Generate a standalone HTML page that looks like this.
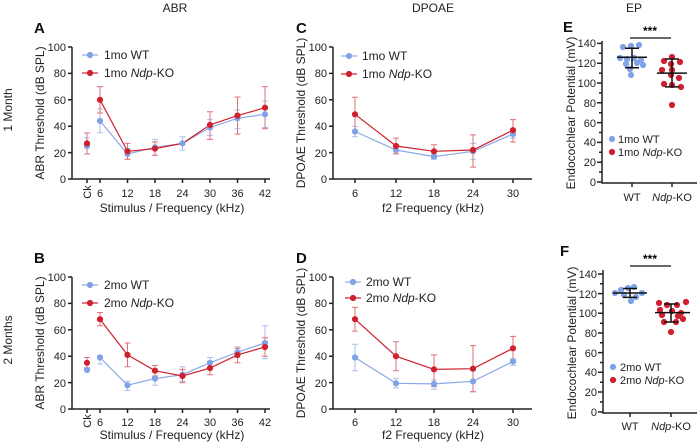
<!DOCTYPE html>
<html><head><meta charset="utf-8"><style>
body{margin:0;background:#fff}
svg{display:block;font-family:"Liberation Sans",Arial,sans-serif}
.t{font-size:11px;fill:#222}
.l{font-size:12px;fill:#222}
.ax{stroke:#222;stroke-width:1.5;fill:none}
.w{stroke:#7fa3e6;fill:#7fa3e6}
.k{stroke:#d0202e;fill:#d0202e}
.wl{stroke:#8aaae8;stroke-width:1.2;fill:none}
.kl{stroke:#d0202e;stroke-width:1.2;fill:none}
.we{stroke:#a9c0ee;stroke-width:1;fill:none}
.ke{stroke:#e0707a;stroke-width:1;fill:none}
</style></head><body>
<svg width="700" height="444" viewBox="0 0 700 444">
<text x="175" y="12" class="l" text-anchor="middle">ABR</text>
<text x="433" y="12" class="l" text-anchor="middle">DPOAE</text>
<text x="634" y="12" class="l" text-anchor="middle">EP</text>
<text x="12" y="110" class="l" text-anchor="middle" transform="rotate(-90 12 110)">1 Month</text>
<text x="12" y="340" class="l" text-anchor="middle" transform="rotate(-90 12 340)">2 Months</text>
<g font-weight="bold" font-size="15" fill="#111">
<text x="34" y="33">A</text><text x="296" y="33">C</text><text x="563" y="32">E</text>
<text x="34" y="263">B</text><text x="296" y="263">D</text><text x="560" y="256">F</text>
</g>

<!-- ===== Panel A ===== -->
<g>
<path class="ax" d="M72 47V179H270"/>
<g class="ax"><path d="M68 47H72M68 73.4H72M68 99.8H72M68 126.2H72M68 152.6H72M68 179H72"/>
<path d="M87 179v4M100 179v4M127.5 179v4M155 179v4M182.5 179v4M210 179v4M237.5 179v4M265 179v4"/></g>
<g class="t" text-anchor="end"><text x="66" y="51">100</text><text x="66" y="77">80</text><text x="66" y="104">60</text><text x="66" y="130">40</text><text x="66" y="157">20</text><text x="66" y="183">0</text></g>
<g class="t" text-anchor="middle"><text x="100" y="197">6</text><text x="127.5" y="197">12</text><text x="155" y="197">18</text><text x="182.5" y="197">24</text><text x="210" y="197">30</text><text x="237.5" y="197">36</text><text x="265" y="197">42</text></g>
<text class="t" text-anchor="middle" transform="translate(91 192) rotate(-90)">Ck</text>
<text class="l" x="172" y="212" text-anchor="middle">Stimulus / Frequency (kHz)</text>
<text class="l" x="44" y="113" text-anchor="middle" transform="rotate(-90 44 113)">ABR Threshold (dB SPL)</text>
<path class="we" d="M87 154v-16M84 154h6M84 138h6M100 132.8v-23.8M97 132.8h6M97 109h6M127.5 159.2v-10.6M124.5 159.2h6M124.5 148.6h6M155 155.2v-15.8M152 155.2h6M152 139.4h6M182.5 150v-13.2M179.5 150h6M179.5 136.8h6M210 135.4v-15.8M207 135.4h6M207 119.6h6M237.5 128.8v-18.8M234.5 128.8h6M234.5 110h6M265 127.5v-26.4M262 127.5h6M262 101.1h6"/>
<path class="ke" d="M87 154v-21M84 154h6M84 133h6M100 113v-26.4M97 113h6M97 86.6h6M127.5 159.2v-15.8M124.5 159.2h6M124.5 143.4h6M155 155.2v-13.2M152 155.2h6M152 142h6M210 139.4v-27.7M207 139.4h6M207 111.7h6M237.5 134v-37M234.5 134h6M234.5 97h6M265 128.8v-42.2M262 128.8h6M262 86.6h6"/>
<polyline class="wl" points="100,120.9 127.5,153.9 155,147.3 182.5,143.4 210,127.5 237.5,118.3 265,114.3"/>
<polyline class="kl" points="100,99.8 127.5,151.3 155,148.6 182.5,143.4 210,124.9 237.5,115.6 265,107.7"/>
<g class="w"><circle cx="87" cy="146" r="2.6"/><circle cx="100" cy="120.9" r="2.6"/><circle cx="127.5" cy="153.9" r="2.6"/><circle cx="155" cy="147.3" r="2.6"/><circle cx="182.5" cy="143.4" r="2.6"/><circle cx="210" cy="127.5" r="2.6"/><circle cx="237.5" cy="118.3" r="2.6"/><circle cx="265" cy="114.3" r="2.6"/></g>
<g class="k"><circle cx="87" cy="143.4" r="2.6"/><circle cx="100" cy="99.8" r="2.6"/><circle cx="127.5" cy="151.3" r="2.6"/><circle cx="155" cy="148.6" r="2.6"/><circle cx="210" cy="124.9" r="2.6"/><circle cx="237.5" cy="115.6" r="2.6"/><circle cx="265" cy="107.7" r="2.6"/></g>
<path class="wl" d="M82 55H98"/><circle class="w" cx="90" cy="55" r="2.6"/><text class="l" x="104" y="59">1mo WT</text>
<path class="kl" d="M82 73H98"/><circle class="k" cx="90" cy="73" r="2.6"/><text class="l" x="104" y="77">1mo <tspan font-style="italic">Ndp</tspan>-KO</text>
</g>

<!-- ===== Panel B ===== -->
<g>
<path class="ax" d="M72 277V409H270"/>
<g class="ax"><path d="M68 277H72M68 303.4H72M68 329.8H72M68 356.2H72M68 382.6H72M68 409H72"/>
<path d="M87 409v4M100 409v4M127.5 409v4M155 409v4M182.5 409v4M210 409v4M237.5 409v4M265 409v4"/></g>
<g class="t" text-anchor="end"><text x="66" y="281">100</text><text x="66" y="307">80</text><text x="66" y="334">60</text><text x="66" y="360">40</text><text x="66" y="387">20</text><text x="66" y="413">0</text></g>
<g class="t" text-anchor="middle"><text x="100" y="426">6</text><text x="127.5" y="426">12</text><text x="155" y="426">18</text><text x="182.5" y="426">24</text><text x="210" y="426">30</text><text x="237.5" y="426">36</text><text x="265" y="426">42</text></g>
<text class="t" text-anchor="middle" transform="translate(91 421) rotate(-90)">Ck</text>
<text class="l" x="172" y="439" text-anchor="middle">Stimulus / Frequency (kHz)</text>
<text class="l" x="44" y="343" text-anchor="middle" transform="rotate(-90 44 343)">ABR Threshold (dB SPL)</text>
<path class="we" d="M87 372v-4M100 364v-8M97 364h6M97 356h6M127.5 390.5v-9.2M124.5 390.5h6M124.5 381.3h6M155 385.2v-13.2M152 385.2h6M152 372h6M182.5 381.3v-14.5M179.5 381.3h6M179.5 366.8h6M210 368.1v-10.6M207 368.1h6M207 357.5h6M237.5 357.5v-10.6M234.5 357.5h6M234.5 346.9h6M265 358.8v-33M262 358.8h6M262 325.8h6"/>
<path class="ke" d="M87 368v-10.6M84 368h6M84 357.5h6M100 325.8v-13.2M97 325.8h6M97 312.6h6M127.5 366.8v-23.8M124.5 366.8h6M124.5 343h6M155 376v-10.6M152 376h6M152 365.4h6M182.5 382.6v-13.2M179.5 382.6h6M179.5 369.4h6M210 374.7v-13.2M207 374.7h6M207 361.5h6M237.5 362.8v-14.6M234.5 362.8h6M234.5 348.2h6M265 356.2v-18.5M262 356.2h6M262 337.7h6"/>
<polyline class="wl" points="100,357.5 127.5,385.2 155,378.6 182.5,374.7 210,362.8 237.5,352.2 265,343"/>
<polyline class="kl" points="100,319.2 127.5,354.9 155,370.7 182.5,376 210,368.1 237.5,354.9 265,347"/>
<g class="w"><circle cx="87" cy="370" r="2.6"/><circle cx="100" cy="357.5" r="2.6"/><circle cx="127.5" cy="385.2" r="2.6"/><circle cx="155" cy="378.6" r="2.6"/><circle cx="182.5" cy="374.7" r="2.6"/><circle cx="210" cy="362.8" r="2.6"/><circle cx="237.5" cy="352.2" r="2.6"/><circle cx="265" cy="343" r="2.6"/></g>
<g class="k"><circle cx="87" cy="362.8" r="2.6"/><circle cx="100" cy="319.2" r="2.6"/><circle cx="127.5" cy="354.9" r="2.6"/><circle cx="155" cy="370.7" r="2.6"/><circle cx="182.5" cy="376" r="2.6"/><circle cx="210" cy="368.1" r="2.6"/><circle cx="237.5" cy="354.9" r="2.6"/><circle cx="265" cy="347" r="2.6"/></g>
<path class="wl" d="M82 285H98"/><circle class="w" cx="90" cy="285" r="2.6"/><text class="l" x="104" y="289">2mo WT</text>
<path class="kl" d="M82 303H98"/><circle class="k" cx="90" cy="303" r="2.6"/><text class="l" x="104" y="307">2mo <tspan font-style="italic">Ndp</tspan>-KO</text>
</g>

<!-- ===== Panel C ===== -->
<g>
<path class="ax" d="M333 47V179H532"/>
<g class="ax"><path d="M329 47H333M329 73.4H333M329 99.8H333M329 126.2H333M329 152.6H333M329 179H333"/>
<path d="M355 179v4M396 179v4M434 179v4M473 179v4M513 179v4"/></g>
<g class="t" text-anchor="end"><text x="327" y="51">100</text><text x="327" y="77">80</text><text x="327" y="104">60</text><text x="327" y="130">40</text><text x="327" y="157">20</text><text x="327" y="183">0</text></g>
<g class="t" text-anchor="middle"><text x="355" y="197">6</text><text x="396" y="197">12</text><text x="434" y="197">18</text><text x="473" y="197">24</text><text x="513" y="197">30</text></g>
<text class="l" x="433" y="212" text-anchor="middle">f2 Frequency (kHz)</text>
<text class="l" x="305" y="113" text-anchor="middle" transform="rotate(-90 305 113)">DPOAE Threshold (dB SPL)</text>
<path class="we" d="M355 136.8v-10.6M352 136.8h6M352 126.2h6M396 153.9v-7.9M393 153.9h6M393 146h6M434 159.2v-5.3M431 159.2h6M431 153.9h6M473 159.2v-15.8M470 159.2h6M470 143.4h6M513 138.1v-7.9M510 138.1h6M510 130.2h6"/>
<path class="ke" d="M355 131.5v-34.3M352 97.2h6M396 153.9v-15.8M393 153.9h6M393 138.1h6M434 157.9v-13.2M431 157.9h6M431 144.7h6M473 167.1v-32.2M470 167.1h6M470 134.9h6M513 142v-22.6M510 142h6M510 119.6h6"/>
<polyline class="wl" points="355,131.5 396,150 434,156.6 473,151.3 513,134.1"/>
<polyline class="kl" points="355,114.3 396,146 434,151.3 473,150 513,130.2"/>
<g class="w"><circle cx="355" cy="131.5" r="2.6"/><circle cx="396" cy="150" r="2.6"/><circle cx="434" cy="156.6" r="2.6"/><circle cx="473" cy="151.3" r="2.6"/><circle cx="513" cy="134.1" r="2.6"/></g>
<g class="k"><circle cx="355" cy="114.3" r="2.6"/><circle cx="396" cy="146" r="2.6"/><circle cx="434" cy="151.3" r="2.6"/><circle cx="473" cy="150" r="2.6"/><circle cx="513" cy="130.2" r="2.6"/></g>
<path class="wl" d="M341 56H357"/><circle class="w" cx="349" cy="56" r="2.6"/><text class="l" x="362" y="60">1mo WT</text>
<path class="kl" d="M341 74H357"/><circle class="k" cx="349" cy="74" r="2.6"/><text class="l" x="362" y="78">1mo <tspan font-style="italic">Ndp</tspan>-KO</text>
</g>

<!-- ===== Panel D ===== -->
<g>
<path class="ax" d="M333 277V409H532"/>
<g class="ax"><path d="M329 277H333M329 303.4H333M329 329.8H333M329 356.2H333M329 382.6H333M329 409H333"/>
<path d="M355 409v4M396 409v4M434 409v4M473 409v4M513 409v4"/></g>
<g class="t" text-anchor="end"><text x="327" y="281">100</text><text x="327" y="307">80</text><text x="327" y="334">60</text><text x="327" y="360">40</text><text x="327" y="387">20</text><text x="327" y="413">0</text></g>
<g class="t" text-anchor="middle"><text x="355" y="426">6</text><text x="396" y="426">12</text><text x="434" y="426">18</text><text x="473" y="426">24</text><text x="513" y="426">30</text></g>
<text class="l" x="433" y="439" text-anchor="middle">f2 Frequency (kHz)</text>
<text class="l" x="305" y="343" text-anchor="middle" transform="rotate(-90 305 343)">DPOAE Threshold (dB SPL)</text>
<path class="we" d="M355 370.7v-26.4M352 370.7h6M352 344.3h6M396 387.9v-9.2M393 387.9h6M393 378.6h6M434 389.2v-9.2M431 389.2h6M431 380h6M473 391.8v-21.1M470 391.8h6M470 370.7h6M513 365.4v-6.6M510 365.4h6M510 358.8h6"/>
<path class="ke" d="M355 331.1v-23.7M352 331.1h6M352 307.4h6M396 370.7v-29M393 370.7h6M393 341.7h6M434 386.6v-31.7M431 386.6h6M431 354.9h6M473 391.8v-46.2M470 391.8h6M470 345.6h6M513 360.2v-23.8M510 360.2h6M510 336.4h6"/>
<polyline class="wl" points="355,357.5 396,383.3 434,383.9 473,381.3 513,361.5"/>
<polyline class="kl" points="355,319.2 396,356.2 434,369.4 473,368.7 513,348.3"/>
<g class="w"><circle cx="355" cy="357.5" r="2.6"/><circle cx="396" cy="383.3" r="2.6"/><circle cx="434" cy="383.9" r="2.6"/><circle cx="473" cy="381.3" r="2.6"/><circle cx="513" cy="361.5" r="2.6"/></g>
<g class="k"><circle cx="355" cy="319.2" r="2.6"/><circle cx="396" cy="356.2" r="2.6"/><circle cx="434" cy="369.4" r="2.6"/><circle cx="473" cy="368.7" r="2.6"/><circle cx="513" cy="348.3" r="2.6"/></g>
<path class="wl" d="M345 282H361"/><circle class="w" cx="353" cy="282" r="2.6"/><text class="l" x="366" y="286">2mo WT</text>
<path class="kl" d="M345 298H361"/><circle class="k" cx="353" cy="298" r="2.6"/><text class="l" x="366" y="302">2mo <tspan font-style="italic">Ndp</tspan>-KO</text>
</g>

<!-- ===== Panel E ===== -->
<g>
<path class="ax" d="M602 41V183H697"/>
<g class="ax"><path d="M597 43.4H602M597 63.2H602M597 83H602M597 102.8H602M597 122.6H602M597 142.4H602M597 162.2H602M597 182H602"/>
<path d="M599 53.3H602M599 73.1H602M599 92.9H602M599 112.7H602M599 132.5H602M599 152.3H602M599 172.1H602M632 183v4M672 183v4"/></g>
<g class="t" text-anchor="end"><text x="596" y="47">140</text><text x="596" y="67">120</text><text x="596" y="87">100</text><text x="596" y="107">80</text><text x="596" y="127">60</text><text x="596" y="146">40</text><text x="596" y="166">20</text><text x="596" y="186">0</text></g>
<text class="t" x="632" y="201" text-anchor="middle">WT</text>
<text class="t" x="672" y="201" text-anchor="middle"><tspan font-style="italic">Ndp</tspan>-KO</text>
<text class="l" x="575" y="113" text-anchor="middle" transform="rotate(-90 575 113)">Endocochlear Potential  (mV)</text>
<path d="M630 38H671" stroke="#111" stroke-width="1.3"/><text x="650" y="35" text-anchor="middle" font-size="12" font-weight="bold">***</text>
<g class="w">
<circle cx="623" cy="47" r="2.6"/><circle cx="631" cy="46" r="2.6"/><circle cx="639" cy="45" r="2.6"/><circle cx="620" cy="58" r="2.6"/><circle cx="627" cy="59" r="2.6"/><circle cx="634" cy="58" r="2.6"/><circle cx="641" cy="60" r="2.6"/><circle cx="643" cy="65" r="2.6"/><circle cx="626" cy="64" r="2.6"/><circle cx="637" cy="63" r="2.6"/><circle cx="630" cy="69" r="2.6"/><circle cx="631" cy="75" r="2.6"/>
</g>
<g class="k">
<circle cx="672" cy="57" r="2.6"/><circle cx="664" cy="61" r="2.6"/><circle cx="680" cy="62" r="2.6"/><circle cx="671" cy="64" r="2.6"/><circle cx="662" cy="70" r="2.6"/><circle cx="672" cy="70" r="2.6"/><circle cx="671" cy="75" r="2.6"/><circle cx="679" cy="78" r="2.6"/><circle cx="664" cy="84" r="2.6"/><circle cx="672" cy="85" r="2.6"/><circle cx="681" cy="87" r="2.6"/><circle cx="672" cy="105" r="2.6"/>
</g>
<g stroke="#111" stroke-width="1.5" fill="none">
<path d="M617 57.3H647M632 48.2V67.8M625 48.2H639M625 67.8H639"/>
<path d="M657 73.1H687M672 59V86.9M665 59H679M665 86.9H679"/>
</g>
<circle class="w" cx="612" cy="139" r="2.6"/><text class="t" x="618" y="143" font-size="12">1mo WT</text>
<circle class="k" cx="612" cy="152" r="2.6"/><text class="t" x="618" y="156" font-size="12">1mo <tspan font-style="italic">Ndp</tspan>-KO</text>
</g>

<!-- ===== Panel F ===== -->
<g>
<path class="ax" d="M603 270V413H697"/>
<g class="ax"><path d="M598 274H603M598 293.6H603M598 313.3H603M598 333H603M598 352.6H603M598 372.3H603M598 392H603M598 412H603"/>
<path d="M600 283.8H603M600 303.5H603M600 323.2H603M600 342.8H603M600 362.5H603M600 382.2H603M600 402H603M630 413v4M671 413v4"/></g>
<g class="t" text-anchor="end"><text x="597" y="278">140</text><text x="597" y="298">120</text><text x="597" y="317">100</text><text x="597" y="337">80</text><text x="597" y="357">60</text><text x="597" y="376">40</text><text x="597" y="396">20</text><text x="597" y="416">0</text></g>
<text class="t" x="630" y="430" text-anchor="middle">WT</text>
<text class="t" x="671" y="430" text-anchor="middle"><tspan font-style="italic">Ndp</tspan>-KO</text>
<text class="l" x="576" y="343" text-anchor="middle" transform="rotate(-90 576 343)">Endocochlear Potential  (mV)</text>
<path d="M630 266H671" stroke="#111" stroke-width="1.3"/><text x="650" y="263" text-anchor="middle" font-size="12" font-weight="bold">***</text>
<g class="w">
<circle cx="621" cy="290" r="2.6"/><circle cx="628" cy="288" r="2.6"/><circle cx="634" cy="287" r="2.6"/><circle cx="615" cy="293" r="2.6"/><circle cx="642" cy="293" r="2.6"/><circle cx="624" cy="295" r="2.6"/><circle cx="636" cy="297" r="2.6"/><circle cx="631" cy="301" r="2.6"/>
</g>
<g class="k">
<circle cx="659" cy="303" r="2.6"/><circle cx="686" cy="302" r="2.6"/><circle cx="667" cy="305" r="2.6"/><circle cx="677" cy="305" r="2.6"/><circle cx="660" cy="310" r="2.6"/><circle cx="672" cy="311" r="2.6"/><circle cx="681" cy="313" r="2.6"/><circle cx="662" cy="315" r="2.6"/><circle cx="678" cy="316" r="2.6"/><circle cx="683" cy="319" r="2.6"/><circle cx="664" cy="322" r="2.6"/><circle cx="676" cy="322" r="2.6"/><circle cx="671" cy="332" r="2.6"/>
</g>
<g stroke="#111" stroke-width="1.5" fill="none">
<path d="M613 293H647M630 288.5V297.4M623 288.5H637M623 297.4H637"/>
<path d="M655 312.6H690M671 304V322M664 304H678M664 322H678"/>
</g>
<circle class="w" cx="613" cy="367" r="2.6"/><text class="t" x="620" y="371" font-size="12">2mo WT</text>
<circle class="k" cx="613" cy="380" r="2.6"/><text class="t" x="620" y="384" font-size="12">2mo <tspan font-style="italic">Ndp</tspan>-KO</text>
</g>
</svg>
</body></html>
